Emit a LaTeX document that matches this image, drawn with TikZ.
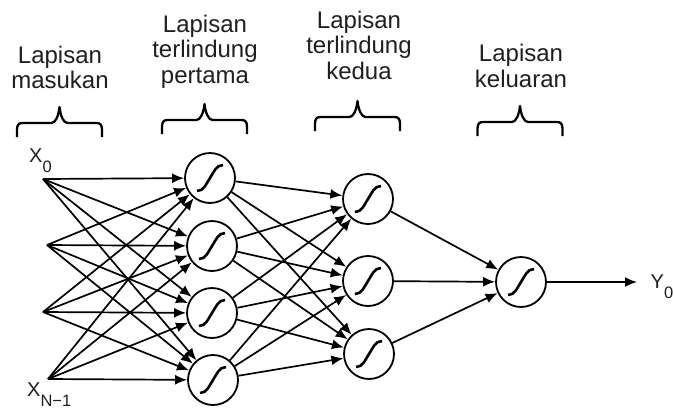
\documentclass[tikz,border=0pt]{standalone}
\usepackage{fontspec}
\setmainfont{Liberation Sans}
\usetikzlibrary{arrows.meta}
\newcommand\lowsub[1]{\raisebox{-10pt}{\fontsize{16.5}{16.5}\selectfont #1}}
\begin{document}
\begin{tikzpicture}[x=1pt,y=-1pt,
  neuron/.style={circle,draw,line width=1.8pt,minimum size=50pt,inner sep=0pt},
  arr/.style={line width=1.7pt,-{Latex[length=12pt,width=10pt]}},
  sigm/.style={line width=2.6pt},
  bracestyle/.style={line width=2.3pt,line join=round},
  title/.style={align=center,anchor=north,inner sep=0pt,text=black!88,font=\fontsize{24}{25.5}\selectfont},
  lbl/.style={anchor=base west,inner sep=0pt,text=black!88,font=\fontsize{20}{20}\selectfont},
  lbrace/.pic={\draw[bracestyle] (-42.5,0) -- (-42.5,-7) .. controls (-42.5,-12) and (-41,-14) .. (-37,-14) -- (-8,-14) .. controls (-4,-14) and (-1,-21) .. (0,-30) .. controls (1,-21) and (4,-14) .. (8,-14) -- (37,-14) .. controls (41,-14) and (42.5,-12) .. (42.5,-7) -- (42.5,0);}
]
\useasboundingbox[fill=white] (0,0) rectangle (674,408);

% titles
\node[title] (t1) at (60,45.7) {Lapisan\\masukan};
\node[title] (t2) at (205,14.7) {Lapisan\\terlindung\\pertama};
\node[title] (t3) at (359,10.7) {Lapisan\\terlindung\\kedua};
\node[title] (t4) at (521,44) {Lapisan\\keluaran};

% braces
\pic at (59.5,137) {lbrace};
\pic at (204.5,134) {lbrace};
\pic at (357.5,131) {lbrace};
\pic at (520,136) {lbrace};

% inputs
\coordinate (i1) at (43,179);
\coordinate (i2) at (47,245);
\coordinate (i3) at (43,312);
\coordinate (i4) at (48,379);

% neurons
\node[neuron] (h1) at (210,178) {};
\node[neuron] (h2) at (212,246) {};
\node[neuron] (h3) at (212,313) {};
\node[neuron] (h4) at (213,380) {};
\node[neuron] (g1) at (368,199) {};
\node[neuron] (g2) at (368,281) {};
\node[neuron] (g3) at (369,354) {};
\node[neuron] (o) at (521,282) {};
\coordinate (yend) at (637,282);

% labels
\node[lbl] (x0) at (29,162) {X\lowsub{0}};
\node[lbl] (xn) at (27,396) {X\lowsub{N−1}};
\node[lbl] (y0) at (650.5,288) {Y\lowsub{0}};

% connections
\foreach \a in {i1,i2,i3,i4}
  \foreach \b in {h1,h2,h3,h4}
    \draw[arr] (\a) -- (\b);
\foreach \a in {h1,h2,h3,h4}
  \foreach \b in {g1,g2,g3}
    \draw[arr] (\a) -- (\b);
\foreach \a in {g1,g2,g3}
  \draw[arr] (\a) -- (o);
\draw[arr] (o) -- (yend);

% sigmoids
\foreach \n in {h1,h2,h3,h4,g1,g2,g3,o}
  \draw[sigm,shift={(\n.center)}] (-13,13) .. controls (-6,13) and (-4,6) .. (0,0) .. controls (4,-6) and (6,-13) .. (13,-13);
\end{tikzpicture}
\end{document}
